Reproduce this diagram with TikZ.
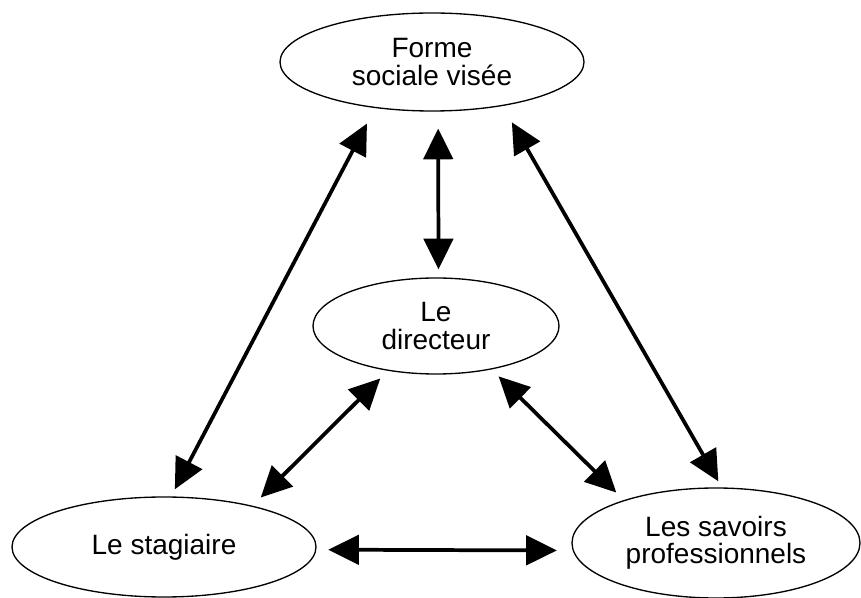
\documentclass[tikz,border=0pt]{standalone}
\usepackage{fontspec}
\setmainfont{Liberation Sans}
\usetikzlibrary{arrows.meta,shapes.geometric}

\begin{document}
\begin{tikzpicture}[x=0.75pt,y=-0.75pt,
every node/.style = {shape=ellipse,
	draw=black, line width=1pt,
	inner sep=0pt,
	align=center,
	font=\fontsize{21}{20.5}\selectfont
	},
link/.style = {<->, >={Triangle[length=23pt,width=22pt]},
	line width=2.8pt}
]
\useasboundingbox (0,0) rectangle (861,598);
\node[minimum width=228pt,minimum height=73.5pt] (FSV) at (432,62) {Forme\\sociale visée};
\node[minimum width=184.5pt,minimum height=72pt] (DIR) at (436,326) {Le\\directeur};
\node[minimum width=228pt,minimum height=75pt] (STG) at (164,547) {Le stagiaire};
\node[minimum width=216pt,minimum height=82.5pt] (SAV) at (716,543) {Les savoirs\\professionnels};
\path
(FSV.-83) edge[link, shorten <=12.75pt, shorten >=6pt] (DIR.87.6)
(STG.82.8) edge[link, shorten <=6pt, shorten >=13.1pt] (FSV.219.2)
(FSV.-32.5) edge[link, shorten <=14.1pt, shorten >=5.25pt] (SAV.84.3)
(DIR.223.8) edge[link, shorten <=8.1pt, shorten >=8.7pt] (STG.25)
(DIR.-38.7) edge[link, shorten <=7.35pt, shorten >=8pt] (SAV.155)
(STG.-1.9) edge[link, shorten <=8.85pt, shorten >=11.9pt] (SAV.183.6);
\end{tikzpicture}
\end{document}
